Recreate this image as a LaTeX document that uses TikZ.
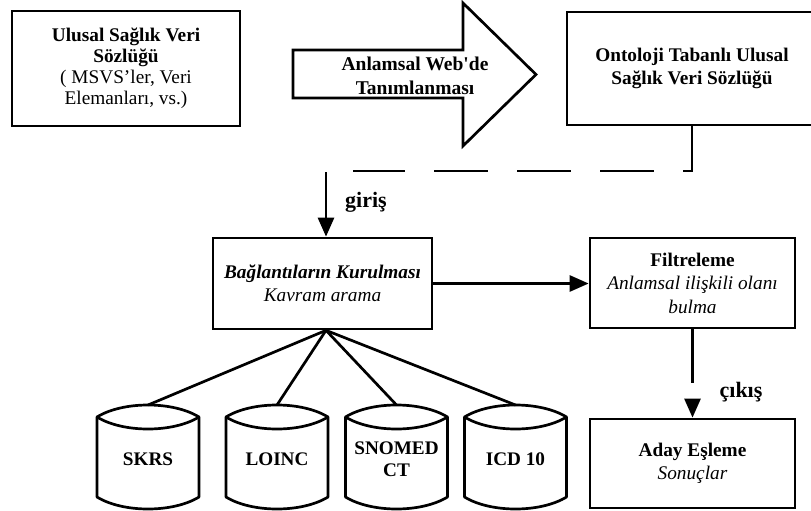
\documentclass[tikz,border=0pt]{standalone}
\usepackage{fontspec}
\setmainfont{Liberation Serif}
\usetikzlibrary{arrows.meta}
\newcommand{\dbcan}[3]{%
  \begin{scope}[shift={(#2,0)}]
    \draw[cylline] (-51,417) .. controls (-25,401) and (25,401) .. (51,417) -- (51,497) .. controls (25,513) and (-25,513) .. (-51,497) -- cycle;
    \draw[cylline] (-51,417) .. controls (-25,433) and (25,433) .. (51,417);
  \end{scope}
  \coordinate (#1top) at (#2,405);
  \node[cyltext] (#1) at (#2,459) {#3};
}
\begin{document}
\begin{tikzpicture}[x=1pt,y=-1pt,
  lw/.style={line width=2.7pt},
  box/.style={draw,lw,rectangle,align=center,inner sep=0pt,font=\fontsize{19.3}{23.5}\selectfont},
  cylline/.style={lw,line join=round},
  cyltext/.style={align=center,inner sep=0pt,font=\fontsize{19.2}{22}\selectfont\bfseries},
  lbl/.style={inner sep=0pt,font=\fontsize{22}{24}\selectfont\bfseries},
  conn/.style={lw},
  arr/.style={lw,-{Triangle[length=19pt,width=16pt]}},
  dashconn/.style={lw,dash pattern=on 54pt off 29pt}
]
\clip (0,0) rectangle (811,511);
\fill[white] (0,0) rectangle (811,511);

% top row
\node[box,minimum width=228pt,minimum height=115pt,font=\fontsize{19.3}{21}\selectfont] (b1) at (126,68.5)
  {\textbf{Ulusal Sağlık Veri}\\\textbf{Sözlüğü}\\( MSVS’ler, Veri\\Elemanları, vs.)};

\draw[lw,line join=miter] (293,50) -- (463,50) -- (463,3) -- (536,74.5) -- (463,146) -- (463,98) -- (293,98) -- cycle;
\node[align=center,inner sep=0pt,font=\fontsize{19.5}{24}\selectfont\bfseries] (arrtext) at (415,75.5)
  {Anlamsal Web\textquotesingle de\\Tanımlanması};

\node[box,minimum width=250pt,minimum height=113pt] (b3) at (692,68.5)
  {\textbf{Ontoloji Tabanlı Ulusal}\\\textbf{Sağlık Veri Sözlüğü}};

% dashed feedback
\coordinate (dend) at (353,171);
\draw[dashconn] (b3.south) |- (dend);

% giris arrow
\coordinate (gstart) at (326,172);
\node[box,minimum width=219pt,minimum height=91pt] (b2) at (322.5,283.5)
  {\textbf{\textit{Bağlantıların Kurulması}}\\\textit{Kavram arama}};
\draw[arr] (gstart) -- (gstart |- b2.north);
\node[lbl] (giris) at (366,202) {giriş};

% filter
\node[box,minimum width=205pt,minimum height=90pt] (b4) at (692.5,283)
  {\textbf{Filtreleme}\\\textit{Anlamsal ilişkili olanı}\\\textit{bulma}};
\draw[arr] (b2.east) -- (b4.west |- b2.east);

% result
\node[box,minimum width=205pt,minimum height=89pt] (b5) at (692.5,463.5)
  {\textbf{Aday Eşleme}\\\textit{Sonuçlar}};
\draw[arr,dash pattern=on 54pt off 300pt] (b4.south) -- (b5.north);
\node[lbl] (cikis) at (741,392) {çıkış};

% databases
\dbcan{skrs}{148}{SKRS}
\dbcan{loinc}{277}{LOINC}
\dbcan{snomed}{396.5}{SNOMED\\CT}
\dbcan{icd}{515.5}{ICD 10}

\coordinate (fan) at (gstart |- b2.south);
\foreach \t in {skrstop,loinctop,snomedtop,icdtop}
  \draw[conn] (fan) -- (\t);
\end{tikzpicture}
\end{document}
